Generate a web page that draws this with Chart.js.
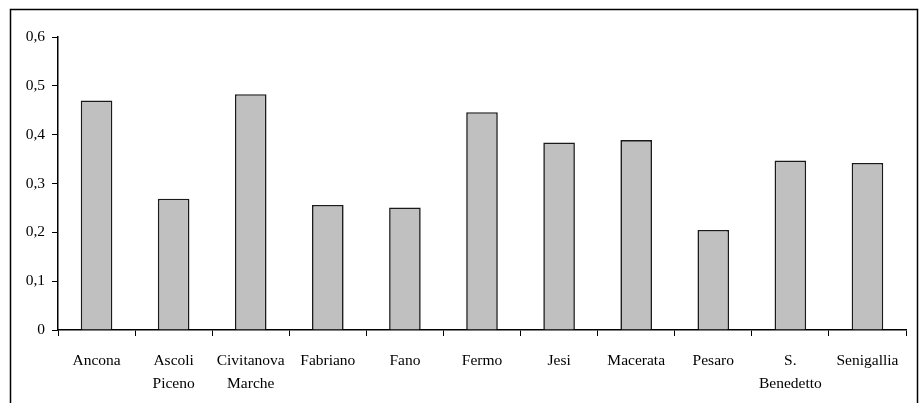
<!DOCTYPE html>
<html>
<head>
<meta charset="utf-8">
<script src="https://cdn.jsdelivr.net/npm/chart.js@4"></script>
<style>
  html, body { margin: 0; padding: 0; background: #fff; }
  #wrap { position: relative; width: 920px; height: 403px; }
</style>
</head>
<body>
<div id="wrap"><canvas id="barChart" width="920" height="403"></canvas></div>
<script>
// dati
var cities = [['Ancona'], ['Ascoli', 'Piceno'], ['Civitanova', 'Marche'], ['Fabriano'], ['Fano'], ['Fermo'],
              ['Jesi'], ['Macerata'], ['Pesaro'], ['S.', 'Benedetto'], ['Senigallia']];
var values = [0.470, 0.269, 0.483, 0.256, 0.251, 0.446, 0.384, 0.389, 0.205, 0.347, 0.342];
var yTicks = [0, 0.1, 0.2, 0.3, 0.4, 0.5, 0.6];

Chart.defaults.font.family = '"Liberation Serif", "DejaVu Serif", serif';
Chart.defaults.font.size = 15.5;
Chart.defaults.color = '#000';

// cornice esterna (il bordo inferiore esce dalla finestra)
var framePlugin = {
    id: 'frame',
    afterDraw: function(chart) {
        var ctx = chart.ctx;
        ctx.save();
        ctx.strokeStyle = '#000';
        ctx.lineWidth = 1.5;
        ctx.beginPath();
        ctx.moveTo(10.5, 420);
        ctx.lineTo(10.5, 9.5);
        ctx.lineTo(917.5, 9.5);
        ctx.lineTo(917.5, 420);
        ctx.stroke();
        ctx.restore();
    }
};

var ctx = document.getElementById('barChart').getContext('2d');
var barChart = new Chart(ctx, {
    type: 'bar',
    data: {
        labels: cities,
        datasets: [{
            data: values,
            backgroundColor: '#c0c0c0',
            borderColor: '#1a1a1a',
            borderWidth: 1.6,
            categoryPercentage: 1,
            barPercentage: 0.41
        }]
    },
    options: {
        responsive: false,
        animation: false,
        layout: { padding: { top: 37, right: 14, left: 0, bottom: 0 } },
        plugins: {
            legend: { display: false },
            tooltip: { enabled: false }
        },
        scales: {
            x: {
                offset: true,
                grid: { offset: true, drawOnChartArea: false, drawTicks: true, tickLength: 6, color: '#000', lineWidth: 1 },
                border: { color: '#000', width: 1.5 },
                ticks: { maxRotation: 0, autoSkip: false, padding: 14, font: { lineHeight: 1.45 } },
                afterFit: function(scale) { scale.height = 73; }
            },
            y: {
                min: 0,
                max: 0.6,
                afterBuildTicks: function(scale) {
                    scale.ticks = yTicks.map(function(v) { return { value: v }; });
                },
                grid: { drawOnChartArea: false, drawTicks: true, tickLength: 6, color: '#000', lineWidth: 1 },
                border: { color: '#000', width: 1.5 },
                ticks: {
                    padding: 7,
                    callback: function(v) { return v === 0 ? '0' : v.toFixed(1).replace('.', ','); }
                },
                afterFit: function(scale) { scale.width = 58; }
            }
        }
    },
    plugins: [framePlugin]
});
</script>
</body>
</html>
